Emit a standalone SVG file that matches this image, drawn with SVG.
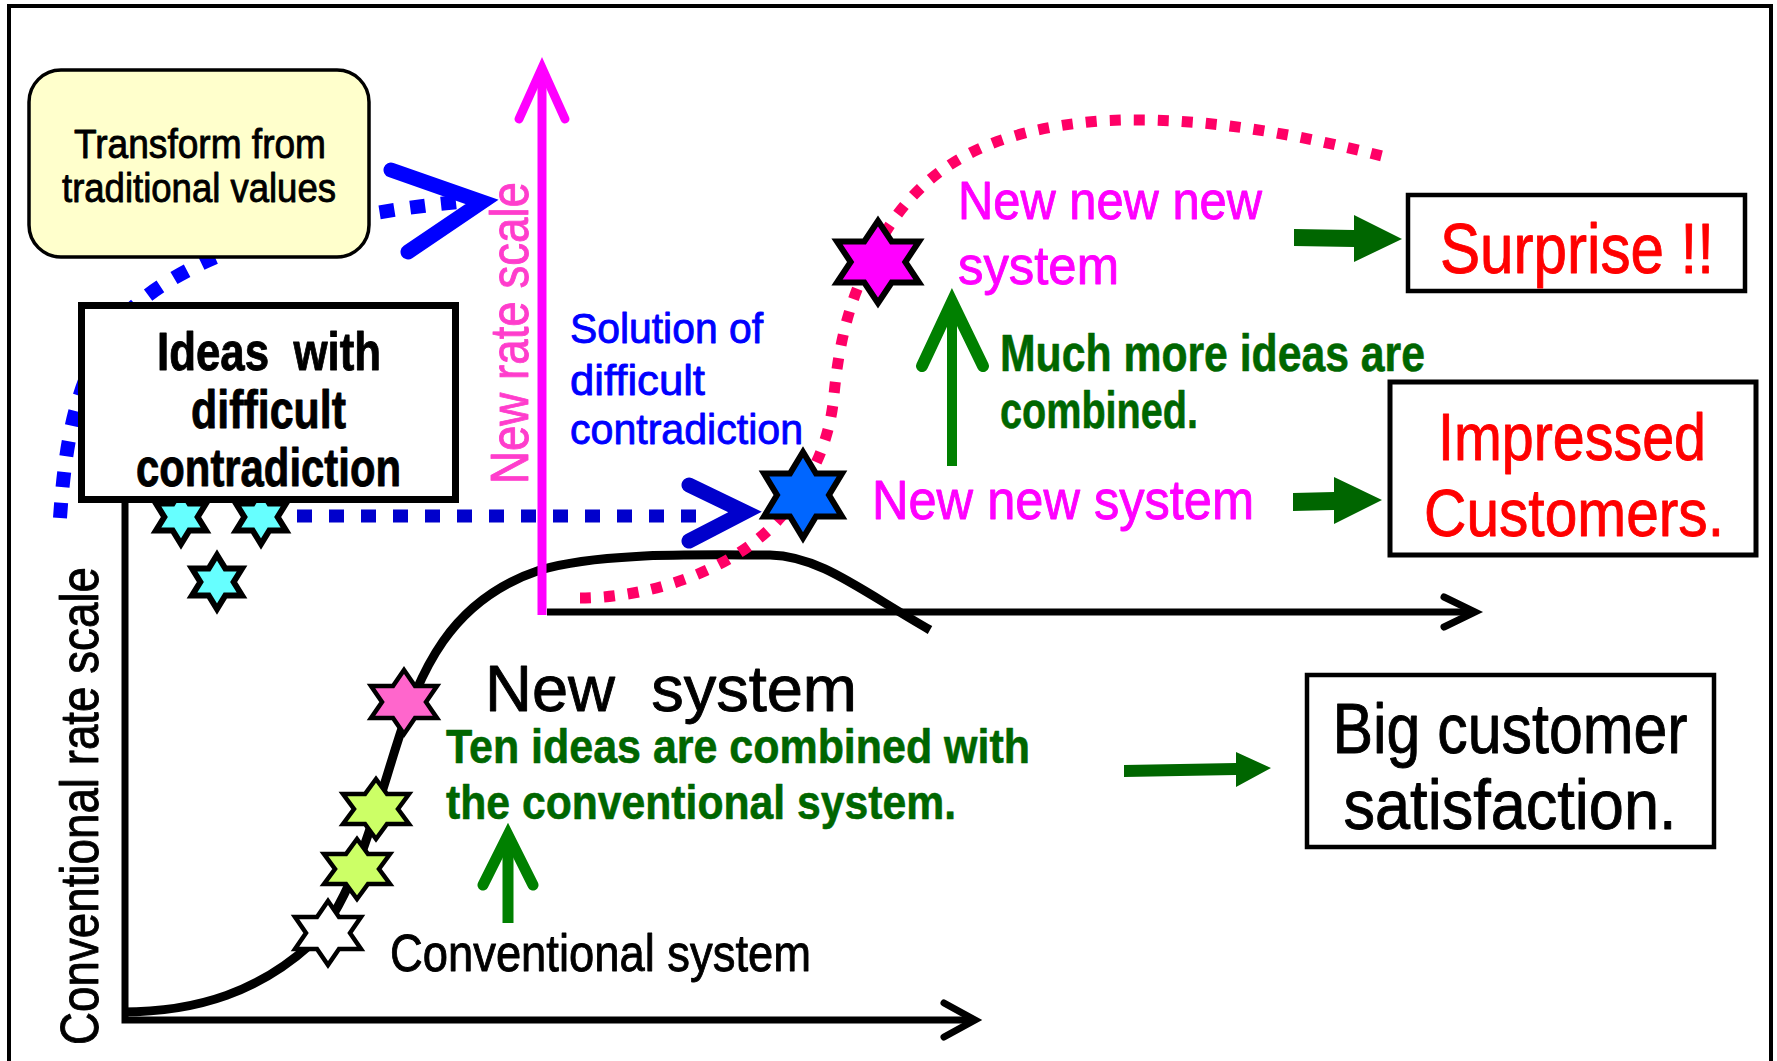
<svg xmlns="http://www.w3.org/2000/svg" width="1777" height="1061" viewBox="0 0 1777 1061">
<defs>
<style>
text{font-family:"Liberation Sans",Arial,sans-serif;stroke-linejoin:round}
.b{font-weight:bold}
.k{fill:#000;stroke:#000;stroke-width:0.9}
.star{stroke:#000;stroke-linejoin:miter;stroke-miterlimit:10}
.box{fill:#fff;stroke:#000}
.axis{fill:none;stroke:#000;stroke-width:7;stroke-linecap:butt;stroke-linejoin:miter}
.chev{fill:none;stroke-linecap:round;stroke-linejoin:miter;stroke-miterlimit:10}
.garrow{fill:#006600}
.up{fill:none;stroke:#008000}
.red{fill:#FF0000;stroke:#FF0000;stroke-width:0.9;font-size:70px}
.mag{fill:#FF00FF;stroke:#FF00FF;stroke-width:0.9}
.grn{fill:#006600;stroke:#006600;stroke-width:0.6}
.blu{fill:#0000FF;stroke:#0000FF;stroke-width:0.9}
</style>
<path id="hex" d="M0,-1 L0.3333,-0.5 L1,-0.5 L0.6667,0 L1,0.5 L0.3333,0.5 L0,1 L-0.3333,0.5 L-1,0.5 L-0.6667,0 L-1,-0.5 L-0.3333,-0.5 Z" vector-effect="non-scaling-stroke"/>
</defs>
<rect x="0" y="0" width="1777" height="1061" fill="#fff"/>
<rect id="frame" x="9" y="6" width="1762" height="1100" fill="#fff" stroke="#000" stroke-width="4"/>

<g id="connectors">
<path id="blue-curve" d="M60,518 C66,430 80,360 130,310 C190,255 300,218 458,202" fill="none" stroke="#0000FF" stroke-width="14" stroke-dasharray="15 16"/>
</g>

<g id="node-transform">
<rect x="29" y="70" width="340" height="187" rx="32" fill="#FFFFCC" stroke="#000" stroke-width="3.5"/>
<text class="k" x="74" y="158" font-size="40" textLength="252" lengthAdjust="spacingAndGlyphs">Transform from</text>
<text class="k" x="62" y="202" font-size="40" textLength="274" lengthAdjust="spacingAndGlyphs">traditional values</text>
</g>

<g id="stars-ideas">
<use href="#hex" class="star" transform="translate(181,517) scale(25,27)" fill="#66FFFF" stroke-width="6"/>
<use href="#hex" class="star" transform="translate(261,517) scale(25,27)" fill="#66FFFF" stroke-width="6"/>
<use href="#hex" class="star" transform="translate(217,582) scale(25,27)" fill="#66FFFF" stroke-width="6"/>
</g>

<g id="node-ideas">
<rect x="81.5" y="305.5" width="374" height="194" class="box" stroke-width="7"/>
<text class="b k" x="157" y="370" font-size="53" textLength="224" lengthAdjust="spacingAndGlyphs" xml:space="preserve">Ideas  with</text>
<text class="b k" x="191" y="428" font-size="53" textLength="155" lengthAdjust="spacingAndGlyphs">difficult</text>
<text class="b k" x="136" y="486" font-size="53" textLength="265" lengthAdjust="spacingAndGlyphs">contradiction</text>
</g>

<g id="connectors-2">
<path d="M297,516 L697,516" fill="none" stroke="#0000CC" stroke-width="13" stroke-dasharray="15 17"/>
</g>

<g id="axes">
<path class="axis" d="M125,500 L125,1020 L972,1020"/>
<path class="chev" d="M944,1003 L975,1020 L944,1037" stroke="#000" stroke-width="7"/>
</g>

<path id="conventional-curve" d="M122,1012 C200,1012 260,990 310,945 C350,905 370,830 395,750 C420,670 450,600 540,570 C600,552 700,555 770,555 C820,556 860,590 930,630" fill="none" stroke="#000" stroke-width="9"/>

<g id="new-axes">
<path d="M542,615 L542,74" fill="none" stroke="#FF00FF" stroke-width="9"/>
<path class="chev" d="M519,119 L542,68 L565,119" stroke="#FF00FF" stroke-width="9"/>
<path class="axis" d="M547,612 L1472,612"/>
<path class="chev" d="M1444,597 L1475,612 L1444,627" stroke="#000" stroke-width="7"/>
</g>

<path id="new-curve" d="M580,598 C650,598 735,570 780,518 C812,482 830,440 834,395 C840,330 855,280 890,225 C930,165 990,130 1100,121 C1200,115 1300,135 1382,156" fill="none" stroke="#FF0066" stroke-width="11" stroke-dasharray="11 13"/>

<g id="stars-curve">
<use href="#hex" class="star" transform="translate(328,933) scale(33,32)" fill="#FFFFFF" stroke-width="4.5"/>
<use href="#hex" class="star" transform="translate(357,869) scale(33,30)" fill="#CCFF66" stroke-width="4.5"/>
<use href="#hex" class="star" transform="translate(376,809) scale(33,30)" fill="#CCFF66" stroke-width="4.5"/>
<use href="#hex" class="star" transform="translate(404,702) scale(33,32)" fill="#FF66CC" stroke-width="4.5"/>
</g>
<g id="star-blue"><use href="#hex" class="star" transform="translate(803,495) scale(39,43)" fill="#0066FF" stroke-width="6"/></g>
<g id="star-magenta"><use href="#hex" class="star" transform="translate(878,262) scale(41,41)" fill="#FF00FF" stroke-width="6"/></g>

<g id="connectors-3">
<path class="chev" d="M391,170 L482,202 L408,252" stroke="#0000FF" stroke-width="15"/>
<path class="chev" d="M689,485 L745,512 L689,541" stroke="#0000CC" stroke-width="15"/>
<path class="up" d="M952,466 L952,310" stroke-width="10"/>
<path class="up chev" d="M922,366 L952,302 L983,366" stroke-width="12"/>
<path class="up" d="M508,923 L508,845" stroke-width="11"/>
<path class="up chev" d="M483,885 L508,835 L533,885" stroke-width="11"/>
<polygon class="garrow" points="1294,229 1354,230 1354,215 1402,239 1354,262 1354,247 1294,246"/>
<polygon class="garrow" points="1293,493 1334,492 1334,477 1382,500 1334,524 1334,510 1293,511"/>
<polygon class="garrow" points="1124,765 1236,763 1236,752 1271,768 1236,787 1236,775 1124,777"/>
</g>

<g id="label-new-rate">
<text transform="translate(528,484) rotate(-90)" font-size="54" fill="#FF3DCC" stroke="#FF3DCC" stroke-width="0.9" textLength="302" lengthAdjust="spacingAndGlyphs">New rate scale</text>
</g>
<g id="label-conv-rate">
<text class="k" transform="translate(98,1045) rotate(-90)" font-size="54" textLength="478" lengthAdjust="spacingAndGlyphs">Conventional rate scale</text>
</g>

<g id="label-solution" class="blu">
<text x="570" y="343" font-size="43" textLength="193" lengthAdjust="spacingAndGlyphs">Solution of</text>
<text x="570" y="395" font-size="43" textLength="135" lengthAdjust="spacingAndGlyphs">difficult</text>
<text x="570" y="444" font-size="43" textLength="233" lengthAdjust="spacingAndGlyphs">contradiction</text>
</g>

<g id="label-newnewnew" class="mag">
<text x="958" y="219" font-size="53" textLength="304" lengthAdjust="spacingAndGlyphs">New new new</text>
<text x="958" y="284" font-size="53" textLength="161" lengthAdjust="spacingAndGlyphs">system</text>
</g>
<g id="label-newnew" class="mag">
<text x="872" y="519" font-size="55" textLength="382" lengthAdjust="spacingAndGlyphs">New new system</text>
</g>
<g id="label-much" class="grn b">
<text x="1000" y="371" font-size="52" textLength="425" lengthAdjust="spacingAndGlyphs">Much more ideas are</text>
<text x="1000" y="428" font-size="52" textLength="198" lengthAdjust="spacingAndGlyphs">combined.</text>
</g>

<g id="node-surprise">
<rect x="1408" y="195" width="337" height="96" class="box" stroke-width="4.5"/>
<text class="red" x="1577" y="273" text-anchor="middle" textLength="274" lengthAdjust="spacingAndGlyphs">Surprise !!</text>
</g>
<g id="node-impressed">
<rect x="1390" y="382" width="366" height="173" class="box" stroke-width="5"/>
<text class="red" x="1572" y="460" font-size="66" text-anchor="middle" textLength="268" lengthAdjust="spacingAndGlyphs" style="font-size:66px">Impressed</text>
<text class="red" x="1574" y="536" font-size="66" text-anchor="middle" textLength="300" lengthAdjust="spacingAndGlyphs" style="font-size:66px">Customers.</text>
</g>
<g id="node-big">
<rect x="1307" y="675" width="407" height="172" class="box" stroke-width="4.5"/>
<text class="k" x="1510" y="753" font-size="70" text-anchor="middle" textLength="355" lengthAdjust="spacingAndGlyphs">Big customer</text>
<text class="k" x="1510" y="829" font-size="70" text-anchor="middle" textLength="333" lengthAdjust="spacingAndGlyphs">satisfaction.</text>
</g>

<g id="label-newsystem">
<text class="k" x="485" y="711" font-size="64" textLength="372" lengthAdjust="spacingAndGlyphs" xml:space="preserve">New  system</text>
</g>
<g id="label-ten" class="grn b">
<text x="446" y="763" font-size="49" textLength="584" lengthAdjust="spacingAndGlyphs">Ten ideas are combined with</text>
<text x="446" y="819" font-size="49" textLength="510" lengthAdjust="spacingAndGlyphs">the conventional system.</text>
</g>
<g id="label-conventional">
<text class="k" x="390" y="971" font-size="52" textLength="421" lengthAdjust="spacingAndGlyphs">Conventional system</text>
</g>
</svg>
